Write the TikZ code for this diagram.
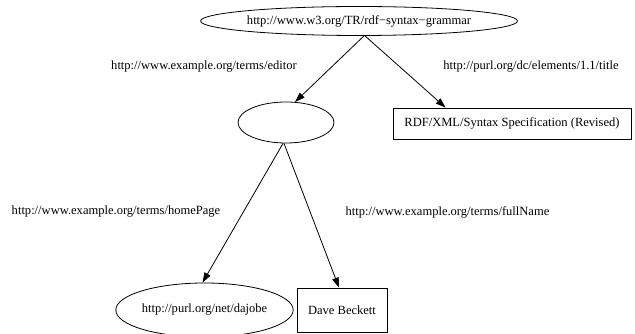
\documentclass[tikz,border=0pt]{standalone}
\usepackage{fontspec}
\setmainfont{Liberation Serif}
\usetikzlibrary{shapes.geometric,arrows.meta,calc}
\tikzset{
  lbl/.style={inner sep=0pt, font=\fontsize{9.4}{11}\selectfont},
  ell/.style={draw, ellipse, inner sep=0pt, line width=0.6pt, font=\fontsize{9.4}{11}\selectfont},
  box/.style={draw, rectangle, inner sep=0pt, line width=0.6pt, font=\fontsize{9.4}{11}\selectfont},
  arr/.style={line width=0.6pt, -{Triangle[length=7.5pt,width=5pt]}}
}
\begin{document}
\begin{tikzpicture}[x=0.75pt, y=-0.75pt]
\useasboundingbox (0,0) rectangle (635,334);
\node[ell, minimum width=216pt, minimum height=21.75pt] (top) at (359,21) {http://www.w3.org/TR/rdf−syntax−grammar};
\node[ell, minimum width=72pt, minimum height=30.75pt] (blank) at (286,122.5) {};
\node[box, minimum width=178.5pt, minimum height=23.25pt] (title) at (512,123.5) {RDF/XML/Syntax Specification (Revised)};
\node[ell, minimum width=117.75pt, minimum height=40.5pt] (dajobe) at (204.5,310) {http://purl.org/net/dajobe};
\node[box, minimum width=67.5pt, minimum height=33pt] (dave) at (342,310) {Dave Beckett};
\node[lbl] (l1) at (204,67) {http://www.example.org/terms/editor};
\node[lbl] (l2) at (531,67) {http://purl.org/dc/elements/1.1/title};
\node[lbl] (l3) at (116,212) {http://www.example.org/terms/homePage};
\node[lbl] (l4) at (447.5,212) {http://www.example.org/terms/fullName};
\draw[arr] ($(top.south)+(5,0)$) -- ($(blank.north)+(9,0.4)$);
\draw[arr] ($(top.south)+(6,0)$) -- ($(title.north west)+(53,0)$);
\draw[arr] ($(blank.south)+(-3,0)$) -- ($(dajobe.north)+(-2,0)$);
\draw[arr] ($(blank.south)+(-2,0)$) -- ($(dave.north)+(-3,0)$);
\end{tikzpicture}
\end{document}
